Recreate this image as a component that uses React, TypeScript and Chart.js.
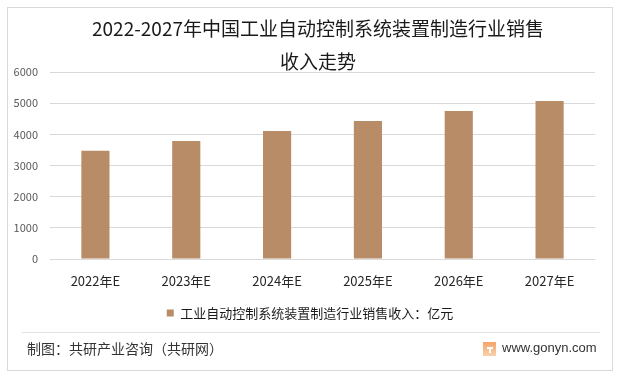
import React, { useEffect, useRef } from "react";
import { Chart, registerables } from "chart.js";

Chart.register(...registerables);

const categories = ["2022年E", "2023年E", "2024年E", "2025年E", "2026年E", "2027年E"];
const salesValues = [3470, 3790, 4110, 4430, 4750, 5070];
const seriesName = "工业自动控制系统装置制造行业销售收入：亿元";
const titleLines = ["2022-2027年中国工业自动控制系统装置制造行业销售", "收入走势"];
const footerLeft = "制图：共研产业咨询（共研网）";
const footerRight = "www.gonyn.com";
const yMin = 0;
const yMax = 6000;
const yStep = 1000;

const CJK = '"Noto Sans CJK SC", "Noto Sans", sans-serif';

const decorPlugin = {
  id: "decor",
  beforeDraw(chart: any) {
    const ctx = chart.ctx;
    ctx.save();
    ctx.fillStyle = "#ffffff";
    ctx.fillRect(0, 0, chart.width, chart.height);
    ctx.restore();
  },
  afterDraw(chart: any) {
    const ctx = chart.ctx;
    ctx.save();
    ctx.strokeStyle = "#d9d9d9";
    ctx.lineWidth = 1;
    ctx.strokeRect(7.5, 7.5, 605, 363);
    ctx.beginPath();
    ctx.moveTo(22, 332.5);
    ctx.lineTo(600, 332.5);
    ctx.strokeStyle = "#e3e3e3";
    ctx.stroke();
    ctx.fillStyle = "#1a1a1a";
    ctx.font = `19px ${CJK}`;
    ctx.textAlign = "center";
    ctx.textBaseline = "middle";
    ctx.fillText(titleLines[0], 318, 29);
    ctx.fillText(titleLines[1], 318, 62);
    ctx.fillStyle = "#333333";
    ctx.font = `14px ${CJK}`;
    ctx.textAlign = "left";
    ctx.fillText(footerLeft, 27, 349);
    ctx.font = `13px "Liberation Sans", Arial, sans-serif`;
    ctx.fillText(footerRight, 502, 348);
    const g = ctx.createLinearGradient(483, 342, 483, 356);
    g.addColorStop(0, "#f4a46a");
    g.addColorStop(1, "#f7d2a8");
    ctx.fillStyle = g;
    ctx.fillRect(483, 342, 13, 14);
    ctx.fillStyle = "#ffffff";
    ctx.fillRect(487, 347, 6, 2);
    ctx.fillRect(489, 349, 2, 4);
    ctx.restore();
  },
};

export default function App() {
  const canvasRef = useRef<HTMLCanvasElement | null>(null);

  useEffect(() => {
    if (!canvasRef.current) return;
    const chart = new Chart(canvasRef.current, {
      type: "bar",
      data: {
        labels: categories,
        datasets: [
          {
            label: seriesName,
            data: salesValues,
            backgroundColor: "#b98c68",
            borderWidth: 0,
            categoryPercentage: 1,
            barPercentage: 0.31,
            yAxisID: "y",
          },
        ],
      },
      options: {
        responsive: false,
        animation: false,
        devicePixelRatio: 1,
        layout: { padding: { left: 8, right: 8, top: 72, bottom: 48.5 } },
        plugins: {
          title: { display: false },
          tooltip: { enabled: false },
          legend: {
            display: true,
            position: "bottom",
            labels: {
              boxWidth: 7,
              boxHeight: 7,
              padding: 10,
              color: "#1a1a1a",
              font: { size: 13, family: CJK },
            },
          },
        },
        scales: {
          x: {
            grid: { display: false, drawTicks: false },
            border: { display: false },
            ticks: {
              color: "#262626",
              padding: 14,
              font: { size: 13, family: CJK },
            },
            afterFit: (s: any) => {
              s.height = 37.5;
            },
          },
          y: {
            position: "left",
            min: yMin,
            max: yMax,
            grid: { color: "#d9d9d9", drawTicks: false },
            border: { display: false },
            ticks: {
              stepSize: yStep,
              color: "#595959",
              padding: 12,
              font: { size: 11, family: CJK },
              callback: (v: any) => String(v),
            },
            afterFit: (s: any) => {
              s.width = 42;
            },
          },
          yRight: {
            type: "linear",
            position: "right",
            display: true,
            min: yMin,
            max: yMax,
            grid: { display: false, drawTicks: false },
            border: { display: false },
            ticks: { display: false },
            afterFit: (s: any) => {
              s.width = 17;
            },
          },
        },
      },
      plugins: [decorPlugin],
    });
    return () => chart.destroy();
  }, []);

  return (
    <div
      style={{
        position: "fixed",
        left: 0,
        top: 0,
        width: 620,
        height: 378,
        background: "#ffffff",
      }}
    >
      <canvas ref={canvasRef} width={620} height={378} style={{ width: 620, height: 378, display: "block" }} />
    </div>
  );
}
